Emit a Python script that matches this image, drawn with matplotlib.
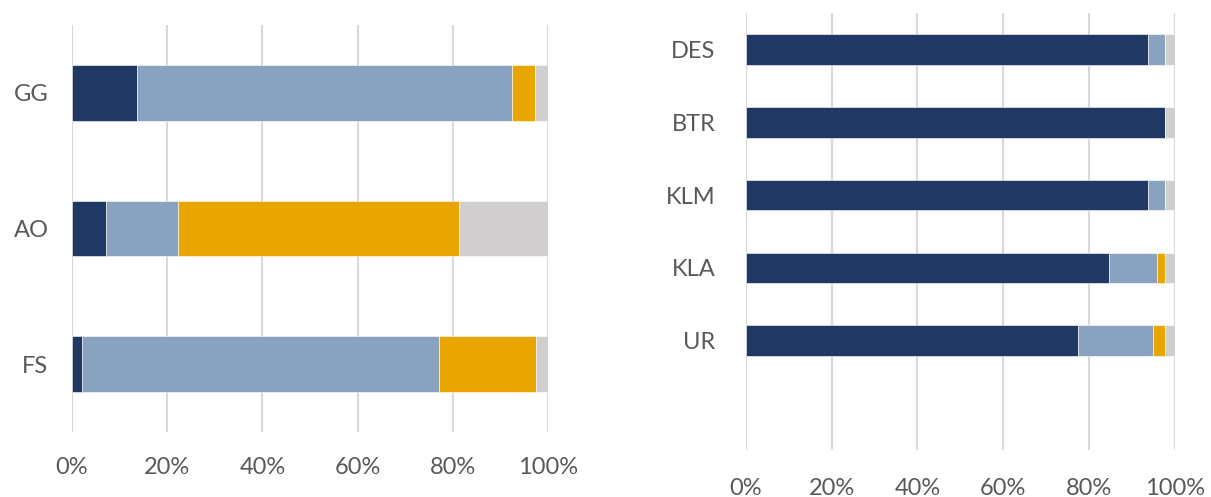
import matplotlib.pyplot as plt
import numpy as np

# left chart data (shares, %)
left_cats = ['GG', 'AO', 'FS']
left_dark = np.array([13.7, 7.1, 2.1])
left_light = np.array([78.7, 15.2, 75.1])
left_orange = np.array([4.9, 59.0, 20.3])
left_grey = np.array([2.7, 18.7, 2.5])

# right chart data (shares, %)
right_cats = ['DES', 'BTR', 'KLM', 'KLA', 'UR']
right_dark = np.array([93.7, 97.7, 93.7, 84.6, 77.4])
right_light = np.array([4.0, 0.0, 4.0, 11.3, 17.5])
right_orange = np.array([0.0, 0.0, 0.0, 1.8, 2.8])
right_grey = np.array([2.3, 2.3, 2.3, 2.3, 2.3])

xticks = [0, 20, 40, 60, 80, 100]
xtick_labels = ['0%', '20%', '40%', '60%', '80%', '100%']

colors = ['#203864', '#88a2bf', '#e9a600', '#d0cece']
text_col = '#595959'
grid_col = '#d9d9d9'

plt.rcParams['font.family'] = ['Lato', 'DejaVu Sans']

fig = plt.figure(figsize=(12.11, 4.97), dpi=100)
ax1 = fig.add_axes([0.0595, 0.1308, 0.393, 0.819])
ax2 = fig.add_axes([0.616, 0.0946, 0.354, 0.879])


def draw(ax, cats, series, height, ylim, ypad, xpad):
    y = np.arange(len(cats))
    left = np.zeros(len(cats))
    for vals, c in zip(series, colors):
        ax.barh(y, vals, left=left, height=height, color=c,
                edgecolor='white', linewidth=0.4, zorder=3)
        left = left + vals
    ax.set_xlim(0, 100)
    ax.set_ylim(*ylim)
    ax.set_yticks(y)
    ax.set_yticklabels(cats)
    ax.set_xticks(xticks)
    ax.set_xticklabels(xtick_labels)
    ax.grid(axis='x', color=grid_col, linewidth=1.5, zorder=0)
    for s in ax.spines.values():
        s.set_visible(False)
    ax.tick_params(axis='both', length=0, labelsize=17, labelcolor=text_col)
    ax.tick_params(axis='y', pad=ypad)
    ax.tick_params(axis='x', pad=xpad)


draw(ax1, left_cats, [left_dark, left_light, left_orange, left_grey],
     0.41, (2.5, -0.5), 17, 18)
draw(ax2, right_cats, [right_dark, right_light, right_orange, right_grey],
     0.42, (5.5, -0.5), 22, 20)

fig.savefig('out.png', dpi=100)
